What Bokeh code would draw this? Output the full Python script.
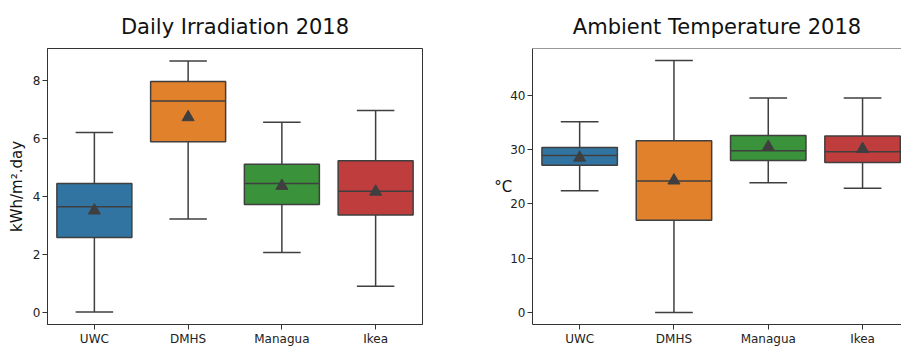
from bokeh.plotting import figure
from bokeh.layouts import row
from bokeh.models import FixedTicker, Range1d, Span, ColumnDataSource
from bokeh.transform import dodge
from bokeh.embed import file_html
from bokeh.resources import INLINE

# ---------------- data ----------------
sites = ["UWC", "DMHS", "Managua", "Ikea"]
colors = ["#3274a1", "#e1812c", "#3a923a", "#c03d3e"]

irr_low = [0.0, 3.21, 2.05, 0.89]
irr_q1 = [2.57, 5.87, 3.71, 3.35]
irr_med = [3.63, 7.28, 4.43, 4.17]
irr_q3 = [4.43, 7.95, 5.10, 5.22]
irr_high = [6.19, 8.66, 6.55, 6.95]
irr_mean = [3.50, 6.72, 4.35, 4.15]
irr_ticks = [0, 2, 4, 6, 8]

tmp_low = [22.4, 0.0, 23.9, 22.9]
tmp_q1 = [27.1, 17.0, 28.0, 27.6]
tmp_med = [28.9, 24.2, 29.8, 29.6]
tmp_q3 = [30.4, 31.6, 32.6, 32.5]
tmp_high = [35.1, 46.4, 39.5, 39.5]
tmp_mean = [28.5, 24.3, 30.5, 30.1]
tmp_ticks = [0, 10, 20, 30, 40]

GRAY = "#3f3f3f"
AX = "#333333"
FONT = "DejaVu Sans"


def make_fig(title, width, y_start, y_end, x_end, ticks, border_left, border_right,
             border_bottom, title_offset):
    p = figure(width=width, height=348, output_backend="svg", toolbar_location=None,
               x_range=Range1d(-0.5, x_end), y_range=Range1d(y_start, y_end),
               min_border_left=border_left, min_border_right=border_right,
               min_border_top=48, min_border_bottom=border_bottom)
    p.title.text = title
    p.title.text_font = FONT
    p.title.text_font_size = "21px"
    p.title.text_font_style = "normal"
    p.title.text_color = "#111111"
    p.title.align = "center"
    p.title.standoff = 20
    p.title.offset = title_offset
    p.xgrid.visible = False
    p.ygrid.visible = False
    p.background_fill_color = "white"
    p.border_fill_color = "white"
    p.xaxis.ticker = FixedTicker(ticks=list(range(len(sites))))
    p.xaxis.major_label_overrides = {i: s for i, s in enumerate(sites)}
    p.yaxis.ticker = FixedTicker(ticks=ticks)
    for ax in (p.xaxis[0], p.yaxis[0]):
        ax.axis_line_color = AX
        ax.axis_line_width = 1
        ax.major_tick_line_color = AX
        ax.major_tick_out = 5
        ax.major_tick_in = 0
        ax.minor_tick_line_color = None
        ax.major_label_standoff = 2
        ax.major_label_text_font = FONT
        ax.major_label_text_font_size = "12px"
        ax.major_label_text_color = "#222222"
        ax.axis_label_text_font = FONT
        ax.axis_label_text_font_size = "15px"
        ax.axis_label_text_font_style = "normal"
        ax.axis_label_text_color = "#111111"
    return p


def draw_boxes(p, low, q1, med, q3, high, mean):
    src = ColumnDataSource(dict(x=list(range(len(sites))), low=low, q1=q1, med=med,
                                q3=q3, high=high, mean=mean, color=colors))
    p.segment(x0="x", y0="q3", x1="x", y1="high", source=src, line_color=GRAY, line_width=1.5)
    p.segment(x0="x", y0="low", x1="x", y1="q1", source=src, line_color=GRAY, line_width=1.5)
    p.segment(x0=dodge("x", -0.2), y0="high", x1=dodge("x", 0.2), y1="high", source=src,
              line_color=GRAY, line_width=1.5)
    p.segment(x0=dodge("x", -0.2), y0="low", x1=dodge("x", 0.2), y1="low", source=src,
              line_color=GRAY, line_width=1.5)
    p.vbar(x="x", width=0.8, bottom="q1", top="q3", source=src, fill_color="color",
           line_color=GRAY, line_width=1.5)
    p.segment(x0=dodge("x", -0.4), y0="med", x1=dodge("x", 0.4), y1="med", source=src,
              line_color=GRAY, line_width=1.5)
    p.scatter(x="x", y="mean", source=src, marker="triangle", size=12,
              fill_color=GRAY, line_color=GRAY)


# left: daily irradiation
p1 = make_fig("Daily Irradiation 2018", 452, -0.43, 9.09, 3.5, irr_ticks, 47, 30, 23, -6)
p1.outline_line_color = AX
p1.outline_line_width = 1
p1.yaxis.axis_label = "kWh/m².day"
p1.yaxis.axis_label_standoff = 4
draw_boxes(p1, irr_low, irr_q1, irr_med, irr_q3, irr_high, irr_mean)

# right: ambient temperature (frame runs off the right edge)
p2 = make_fig("Ambient Temperature 2018", 449, -2.2, 48.6, 3.413, tmp_ticks, 80, 0, 20, -2)
p2.outline_line_color = None
p2.add_layout(Span(location=48.6, dimension="width", line_color=AX, line_width=1))
p2.yaxis.axis_label = "°C"
p2.yaxis.axis_label_orientation = "horizontal"
p2.yaxis.axis_label_standoff = -5
draw_boxes(p2, tmp_low, tmp_q1, tmp_med, tmp_q3, tmp_high, tmp_mean)

layout = row(p1, p2)
open("out.html", "w").write(file_html(layout, INLINE))
